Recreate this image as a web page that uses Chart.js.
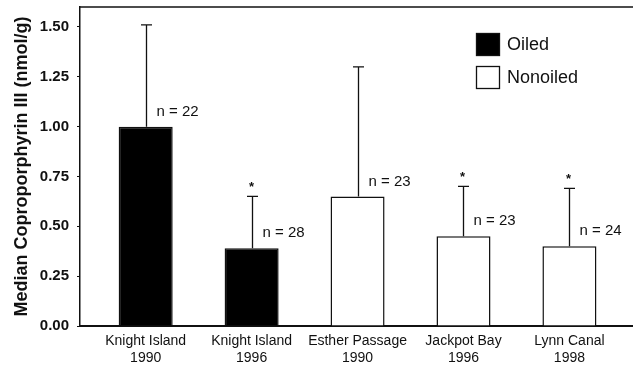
<!DOCTYPE html>
<html>
<head>
<meta charset="utf-8">
<script src="https://cdn.jsdelivr.net/npm/chart.js@4.4.1/dist/chart.umd.min.js"></script>
<style>
  html, body { margin: 0; padding: 0; background: #fff; }
  #wrap { width: 633px; height: 365px; }
</style>
</head>
<body>
<div id="wrap"><canvas id="chart-copro" width="633" height="365"></canvas></div>
<script>
// ── Datos ──────────────────────────────────────────────────────
var sites      = [['Knight Island', '1990'], ['Knight Island', '1996'], ['Esther Passage', '1990'], ['Jackpot Bay', '1996'], ['Lynn Canal', '1998']];
var medians    = [1.00, 0.39, 0.65, 0.45, 0.40];
var upperErr   = [1.51, 0.65, 1.30, 0.70, 0.69];
var nCounts    = [22, 28, 23, 23, 24];
var signif     = [false, true, false, true, true];
var isOiled    = [true, true, false, false, false];
var yTickVals  = [0, 0.25, 0.5, 0.75, 1.0, 1.25, 1.5];
var seriesNames = ['Oiled', 'Nonoiled'];

var FONT = '"Liberation Sans", Arial, Helvetica, sans-serif';

function pts(flag) {
    var out = [];
    medians.forEach(function(v, i) { if (isOiled[i] === flag) out.push({ x: i, y: v }); });
    return out;
}

// error bars, n labels, asterisks, frame, legend
var extras = {
    id: 'extras',
    afterDatasetsDraw: function(chart) {
        var ctx = chart.ctx, xs = chart.scales.x, ys = chart.scales.y;
        ctx.save();
        ctx.strokeStyle = '#111';
        ctx.lineWidth = 1.3;
        medians.forEach(function(v, i) {
            var x = Math.round(xs.getPixelForValue(i)) + 0.5;
            var yTop = ys.getPixelForValue(v);
            var yCap = ys.getPixelForValue(upperErr[i]);
            ctx.beginPath();
            ctx.moveTo(x, yTop);
            ctx.lineTo(x, yCap);
            ctx.moveTo(x - 5.5, yCap);
            ctx.lineTo(x + 5.5, yCap);
            ctx.stroke();

            ctx.fillStyle = '#111';
            ctx.font = '15px ' + FONT;
            ctx.textAlign = 'left';
            ctx.textBaseline = 'middle';
            ctx.fillText('n = ' + nCounts[i], x + 10, yTop - 15);

            if (signif[i]) {
                ctx.font = 'bold 13px ' + FONT;
                ctx.textAlign = 'center';
                ctx.fillText('*', x - 1, yCap - 9);
            }
        });
        ctx.restore();
    },
    afterDraw: function(chart) {
        var ctx = chart.ctx, a = chart.chartArea;
        ctx.save();
        // marco superior
        ctx.strokeStyle = '#111';
        ctx.lineWidth = 1.5;
        ctx.beginPath();
        ctx.moveTo(a.left, a.top);
        ctx.lineTo(a.right, a.top);
        ctx.stroke();

        // leyenda
        var ds = chart.data.datasets;
        ds.forEach(function(d, k) {
            var bx = 476, by = 33 + k * 33;
            ctx.fillStyle = d.backgroundColor;
            ctx.fillRect(bx, by, 24, 23);
            ctx.strokeStyle = '#111';
            ctx.lineWidth = 1.3;
            ctx.strokeRect(bx + 0.5, by + 0.5, 23, 22);
            ctx.fillStyle = '#111';
            ctx.font = '18px ' + FONT;
            ctx.textAlign = 'left';
            ctx.textBaseline = 'middle';
            ctx.fillText(d.label, 507, by + 12);
        });
        ctx.restore();
    }
};

function noPad(s) { s.paddingTop = 0; s.paddingBottom = 0; s.paddingLeft = 0; s.paddingRight = 0; }

new Chart(document.getElementById('chart-copro'), {
    type: 'bar',
    data: {
        datasets: [
            { label: seriesNames[0], data: pts(true),  backgroundColor: '#000', borderColor: '#111', borderWidth: 1.5, grouped: false, barPercentage: 0.51, categoryPercentage: 1 },
            { label: seriesNames[1], data: pts(false), backgroundColor: '#fff', borderColor: '#111', borderWidth: 1.5, grouped: false, barPercentage: 0.51, categoryPercentage: 1 }
        ]
    },
    options: {
        responsive: false,
        animation: false,
        layout: { padding: { left: 8, top: 7, right: 0, bottom: 0 } },
        plugins: { legend: { display: false }, tooltip: { enabled: false } },
        scales: {
            x: {
                type: 'linear',
                offset: false,
                min: -0.62,
                max: 4.6,
                afterBuildTicks: function(s) { s.ticks = sites.map(function(_, i) { return { value: i }; }); },
                afterFit: function(s) { s.height = 39; noPad(s); },
                grid: { display: true, offset: false, drawOnChartArea: false, drawTicks: false },
                border: { display: true, color: '#111', width: 2 },
                ticks: {
                    color: '#111',
                    padding: 7,
                    maxRotation: 0,
                    autoSkip: false,
                    font: { family: FONT, size: 14 },
                    callback: function(v) { return sites[v] || ''; }
                }
            },
            y: {
                min: 0,
                max: 1.6,
                afterBuildTicks: function(s) { s.ticks = yTickVals.map(function(v) { return { value: v }; }); },
                afterFit: function(s) { s.width = 72; noPad(s); },
                grid: { drawOnChartArea: false, drawTicks: true, tickLength: 3, color: '#111' },
                border: { display: true, color: '#111', width: 1.5 },
                ticks: {
                    color: '#111',
                    padding: 8,
                    font: { family: FONT, size: 15, weight: 'bold' },
                    callback: function(v) { return Number(v).toFixed(2); }
                },
                title: {
                    display: true,
                    text: 'Median Coproporphyrin III (nmol/g)',
                    color: '#111',
                    padding: { top: 3, bottom: 2 },
                    font: { family: FONT, size: 18, weight: 'bold' }
                }
            }
        }
    },
    plugins: [extras]
});
</script>
</body>
</html>
